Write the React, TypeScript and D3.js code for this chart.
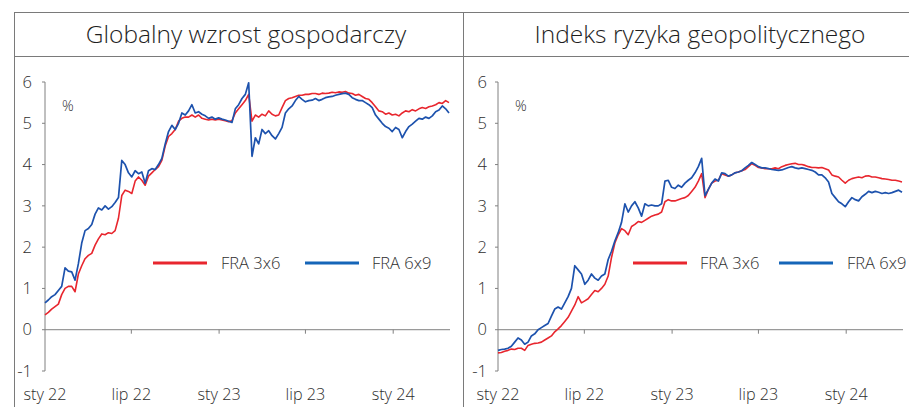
import React from "react";
import * as d3 from "d3";

const START = new Date(2022, 0, 1);

const growth3x6 = [
  0.36, 0.42, 0.5, 0.56, 0.62, 0.85, 1.0, 1.05, 1.05, 0.92,
  1.35, 1.55, 1.72, 1.8, 1.85, 2.05, 2.2, 2.32, 2.3, 2.35,
  2.33, 2.4, 2.7, 3.25, 3.38, 3.35, 3.3, 3.6, 3.7, 3.62,
  3.5, 3.72, 3.8, 3.88, 3.95, 4.1, 4.45, 4.68, 4.75, 4.85,
  5.05, 5.12, 5.15, 5.15, 5.2, 5.15, 5.2, 5.12, 5.1, 5.08,
  5.1, 5.08, 5.1, 5.08, 5.06, 5.04, 5.06, 5.25, 5.35, 5.45,
  5.55, 5.7, 5.05, 5.2, 5.15, 5.22, 5.18, 5.3, 5.22, 5.18,
  5.2, 5.38, 5.55, 5.6, 5.62, 5.65, 5.68, 5.68, 5.7, 5.7,
  5.72, 5.72, 5.7, 5.73, 5.72, 5.73, 5.75, 5.74, 5.76, 5.75,
  5.77, 5.73, 5.72, 5.68, 5.7, 5.65, 5.6, 5.58, 5.5, 5.4,
  5.3, 5.28, 5.22, 5.25, 5.2, 5.22, 5.18, 5.25, 5.3, 5.28,
  5.33, 5.3, 5.35, 5.38, 5.36, 5.4, 5.42, 5.45, 5.5, 5.48,
  5.55, 5.5,
];

const growth6x9 = [
  0.65, 0.72, 0.8, 0.85, 0.95, 1.05, 1.5, 1.42, 1.4, 1.2,
  1.6, 2.1, 2.4, 2.45, 2.55, 2.8, 2.95, 2.9, 3.0, 2.92,
  2.98, 3.08, 3.2, 4.1, 4.0, 3.8, 3.7, 3.85, 3.78, 3.82,
  3.55, 3.85, 3.9, 3.88, 4.0, 4.15, 4.5, 4.8, 4.95, 4.85,
  5.0, 5.25, 5.2, 5.3, 5.45, 5.25, 5.28, 5.22, 5.18, 5.12,
  5.15, 5.1, 5.13, 5.1, 5.08, 5.05, 5.02, 5.35, 5.45, 5.6,
  5.7, 5.98, 4.2, 4.65, 4.5, 4.85, 4.75, 4.82, 4.7, 4.62,
  4.75, 4.9, 5.25, 5.35, 5.42, 5.55, 5.65, 5.58, 5.52, 5.55,
  5.56, 5.6, 5.55, 5.58, 5.62, 5.64, 5.65, 5.68, 5.7, 5.72,
  5.73, 5.7, 5.62, 5.58, 5.55, 5.55, 5.5, 5.45, 5.38, 5.2,
  5.1, 5.0, 4.92, 4.88, 4.8, 4.9, 4.85, 4.65, 4.8, 4.92,
  4.98, 5.05, 5.12, 5.1, 5.15, 5.12, 5.18, 5.28, 5.32, 5.42,
  5.35, 5.25,
];

const geo3x6 = [
  -0.56, -0.55, -0.52, -0.5, -0.47, -0.48, -0.45, -0.45, -0.5, -0.38,
  -0.35, -0.33, -0.32, -0.3, -0.25, -0.2, -0.15, -0.05, 0.02, 0.1,
  0.2, 0.3, 0.45, 0.6, 0.8, 0.65, 0.7, 0.75, 0.85, 0.95,
  0.92, 1.0, 1.1, 1.3, 1.75, 2.1, 2.3, 2.45, 2.4, 2.3,
  2.5, 2.55, 2.62, 2.6, 2.65, 2.7, 2.75, 2.78, 2.8, 2.85,
  3.1, 3.15, 3.12, 3.12, 3.15, 3.18, 3.2, 3.25, 3.35, 3.45,
  3.6, 3.78, 3.2, 3.4, 3.55, 3.6, 3.62, 3.78, 3.75, 3.72,
  3.75, 3.8, 3.82, 3.85, 3.88, 3.95, 4.02, 3.98, 3.93, 3.92,
  3.9, 3.9, 3.9, 3.92, 3.9, 3.95, 3.98, 4.0, 4.02, 4.03,
  4.0, 4.0, 3.98, 3.95, 3.93, 3.93, 3.92, 3.93, 3.9, 3.87,
  3.75, 3.72, 3.7, 3.62, 3.55, 3.62, 3.66, 3.68, 3.7, 3.68,
  3.72, 3.73, 3.7, 3.7, 3.68, 3.66, 3.65, 3.64, 3.62, 3.62,
  3.6, 3.58,
];

const geo6x9 = [
  -0.5, -0.48, -0.47, -0.45, -0.4, -0.3, -0.2, -0.25, -0.35, -0.3,
  -0.15, -0.1, 0.0, 0.05, 0.1, 0.15, 0.33, 0.5, 0.55, 0.5,
  0.65, 0.8, 1.0, 1.55, 1.45, 1.35, 1.1, 1.2, 1.35, 1.25,
  1.2, 1.3, 1.35, 1.7, 1.9, 2.15, 2.35, 2.6, 3.05, 2.85,
  3.0, 3.1, 2.95, 2.75, 3.05, 3.0, 3.02, 3.0, 3.0, 3.05,
  3.6, 3.62, 3.45, 3.42, 3.5, 3.45, 3.55, 3.62, 3.68, 3.8,
  3.95, 4.15, 3.25, 3.4, 3.55, 3.65, 3.6, 3.8, 3.78, 3.72,
  3.75, 3.8, 3.82, 3.85, 3.92, 3.98, 4.05, 4.0, 3.95, 3.92,
  3.92, 3.9, 3.88, 3.87, 3.86, 3.87, 3.9, 3.93, 3.95, 3.92,
  3.9, 3.92, 3.9, 3.88, 3.86, 3.82, 3.75, 3.75, 3.68, 3.58,
  3.3, 3.2, 3.1, 3.05, 2.98, 3.1, 3.2, 3.15, 3.12, 3.22,
  3.28, 3.35, 3.32, 3.35, 3.33, 3.3, 3.32, 3.3, 3.32, 3.35,
  3.38, 3.33,
];

const titles = ["Globalny wzrost gospodarczy", "Indeks ryzyka geopolitycznego"];
const yTicks = [-1, 0, 1, 2, 3, 4, 5, 6];
const xTickDates = [
  new Date(2022, 0, 1),
  new Date(2022, 6, 1),
  new Date(2023, 0, 1),
  new Date(2023, 6, 1),
  new Date(2024, 0, 1),
];
const xTickLabels = ["sty 22", "lip 22", "sty 23", "lip 23", "sty 24"];
const seriesNames = ["FRA 3x6", "FRA 6x9"];

const RED = "#e8262e";
const BLUE = "#1d52ad";
const BLUE_LEG = "#1565b8";
const FRAME = "#7a7a7a";
const AXIS = "#808080";
const TEXT = "#2e2e2e";
const FONT = "'Open Sans', 'DejaVu Sans', sans-serif";

type PanelProps = {
  title: string;
  s1: number[];
  s2: number[];
  axisX: number;
  endX: number;
  titleX: number;
  labelOffset: number;
  legend: { r0: number; t0: number; b0: number; t1: number };
};

function Panel({ title, s1, s2, axisX, endX, titleX, labelOffset, legend }: PanelProps) {
  const endDate = d3.timeDay.offset(START, 7 * (s1.length - 1));
  const x = d3.scaleTime().domain([START, endDate]).range([axisX, endX]);
  const y = d3.scaleLinear().domain([-1, 6]).range([371, 82]);
  const dates = s1.map((_, i) => d3.timeDay.offset(START, 7 * i));
  const line = d3
    .line<number>()
    .x((_, i) => x(dates[i]))
    .y((d) => y(d));
  const legY = 263;
  return (
    <g>
      <text
        x={titleX}
        y={43}
        textAnchor="middle"
        fontFamily={FONT}
        fontWeight={300}
        fontSize={24.5}
        fill="#1e1e1e"
      >
        {title}
      </text>
      <line x1={axisX} x2={axisX} y1={y(6)} y2={y(-1)} stroke={AXIS} strokeWidth={1} />
      {yTicks.map((t) => (
        <g key={t}>
          <line x1={axisX - 3} x2={axisX} y1={y(t)} y2={y(t)} stroke={AXIS} strokeWidth={1} />
          <text
            x={axisX - labelOffset}
            y={y(t)}
            dy="0.35em"
            textAnchor="end"
            fontFamily={FONT}
            fontWeight={300}
            fontSize={16.5}
            fill={TEXT}
          >
            {t}
          </text>
        </g>
      ))}
      <text x={axisX + 17} y={106} dy="0.35em" fontFamily={FONT} fontWeight={300} fontSize={14.5} fill={TEXT}>
        %
      </text>
      <line x1={axisX} x2={endX + 1} y1={y(0)} y2={y(0)} stroke={AXIS} strokeWidth={1} />
      {xTickDates.map((d, i) => (
        <g key={i}>
          {i > 0 && (
            <line x1={x(d)} x2={x(d)} y1={y(0)} y2={y(0) + 4} stroke={AXIS} strokeWidth={1} />
          )}
          <text
            x={x(d)}
            y={394}
            dy="0.35em"
            textAnchor="middle"
            fontFamily={FONT}
            fontWeight={300}
            fontSize={16.2}
            fill={TEXT}
          >
            {xTickLabels[i]}
          </text>
        </g>
      ))}
      <path d={line(s1) ?? ""} fill="none" stroke={RED} strokeWidth={1.6} strokeLinejoin="round" />
      <path d={line(s2) ?? ""} fill="none" stroke={BLUE} strokeWidth={1.7} strokeLinejoin="round" />
      <line x1={legend.r0} x2={legend.r0 + 54} y1={legY} y2={legY} stroke={RED} strokeWidth={3} />
      <text x={legend.t0} y={legY} dy="0.35em" fontFamily={FONT} fontWeight={300} fontSize={16.5} fill={TEXT}>
        {seriesNames[0]}
      </text>
      <line x1={legend.b0} x2={legend.b0 + 54} y1={legY} y2={legY} stroke={BLUE_LEG} strokeWidth={3} />
      <text x={legend.t1} y={legY} dy="0.35em" fontFamily={FONT} fontWeight={300} fontSize={16.5} fill={TEXT}>
        {seriesNames[1]}
      </text>
    </g>
  );
}

export default function App() {
  return (
    <svg
      width={909}
      height={407}
      style={{ position: "absolute", left: 0, top: 0, background: "#fff" }}
    >
      <rect x={0} y={0} width={909} height={407} fill="#fff" />
      <line x1={14} x2={909} y1={12.5} y2={12.5} stroke={FRAME} strokeWidth={1} />
      <line x1={14} x2={909} y1={56.5} y2={56.5} stroke={FRAME} strokeWidth={1} />
      <line x1={14.5} x2={14.5} y1={12} y2={407} stroke={FRAME} strokeWidth={1} />
      <line x1={463.5} x2={463.5} y1={12} y2={407} stroke={FRAME} strokeWidth={1} />
      <Panel
        title={titles[0]}
        s1={growth3x6}
        s2={growth6x9}
        axisX={45}
        endX={449}
        titleX={246}
        labelOffset={13}
        legend={{ r0: 153, t0: 221, b0: 305, t1: 372 }}
      />
      <Panel
        title={titles[1]}
        s1={geo3x6}
        s2={geo6x9}
        axisX={498}
        endX={902}
        titleX={700}
        labelOffset={11}
        legend={{ r0: 633, t0: 700, b0: 779, t1: 847 }}
      />
    </svg>
  );
}
